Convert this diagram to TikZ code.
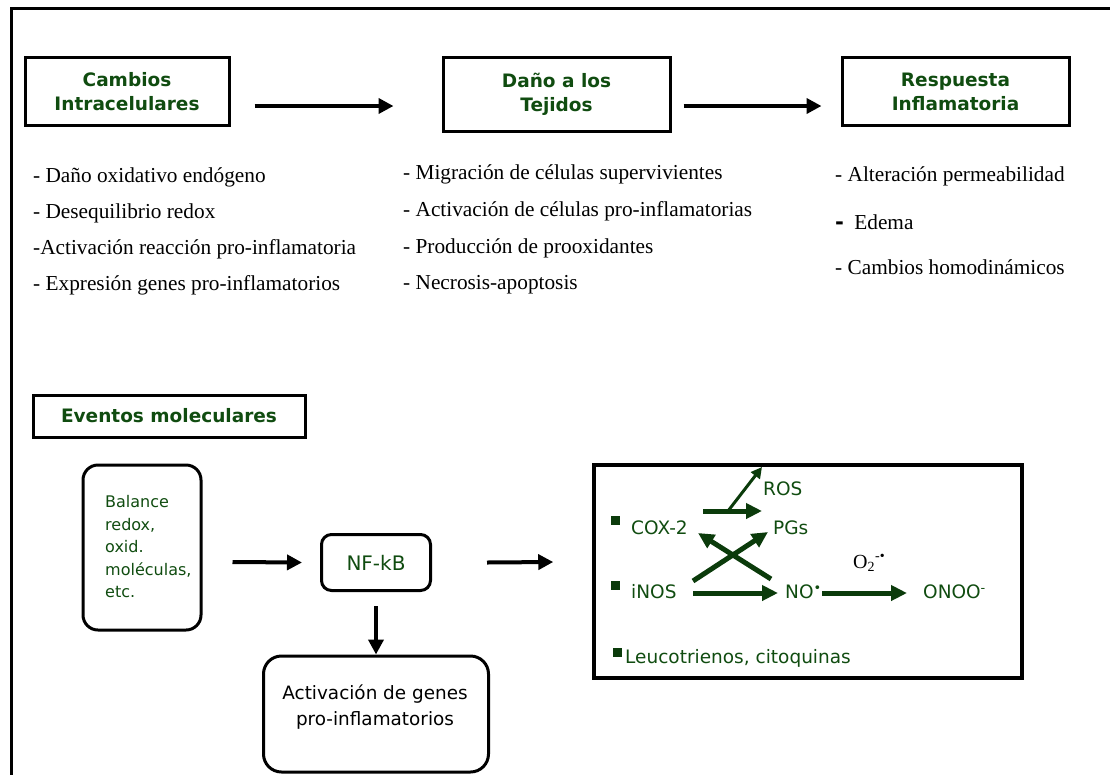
\documentclass[tikz,border=0pt]{standalone}
\usepackage{fontspec}
\setmainfont{Liberation Serif}
\newfontfamily\dvs{DejaVu Sans}
\usetikzlibrary{arrows.meta,calc}
\definecolor{txtgreen}{HTML}{104C10}
\definecolor{arrgreen}{HTML}{0B3B0B}
\begin{document}
\begin{tikzpicture}[x=1pt,y=-1pt,
  hdr/.style={draw=black,line width=3pt,align=center,font=\dvs\bfseries\fontsize{18.5}{24}\selectfont,text=txtgreen,inner sep=0pt},
  lst/.style={anchor=base west,inner sep=0pt,font=\fontsize{21.3}{25}\selectfont},
  blk/.style={line width=4pt,-{Triangle[length=15pt,width=15pt]}},
  grn/.style={draw=arrgreen,line width=5pt,-{Triangle[length=16pt,width=15pt]},arrgreen},
  thingrn/.style={draw=arrgreen,line width=3pt,-{Triangle[length=11pt,width=11pt]},arrgreen},
  rbox/.style={draw=black,line width=3pt,rounded corners=15pt,inner sep=0pt},
  itx/.style={anchor=west,inner sep=0pt,font=\dvs\fontsize{18.5}{22}\selectfont,text=txtgreen},
  bul/.style={fill=arrgreen,minimum size=9pt,inner sep=0pt}
]
\useasboundingbox (0,0) rectangle (1110,774);
\draw[line width=3pt] (11,780) -- (11,8) -- (1115,8);

% top headers
\node[hdr,minimum width=204pt,minimum height=68pt] (b1) at (127,91) {\rule{0pt}{16pt}Cambios\\Intracelulares};
\node[hdr,minimum width=227pt,minimum height=74pt] (b2) at (556.5,94) {Daño a los\\Tejidos};
\node[hdr,minimum width=227pt,minimum height=68pt] (b3) at (955.5,91) {\rule{0pt}{16pt}Respuesta\\Inflamatoria};
\draw[blk] ([xshift=24pt,yshift=-15pt]b1.east) -- ([xshift=-48pt,yshift=-12pt]b2.west);
\draw[blk] ([xshift=12pt,yshift=-12pt]b2.east) -- ([xshift=-19pt,yshift=-15pt]b3.west);

% lists
\node[lst] (c1) at (33,182) {- Daño oxidativo endógeno};
\node[lst] (c2) at (33,218) {- Desequilibrio redox};
\node[lst] (c3) at (33,254) {-Activación reacción pro-inflamatoria};
\node[lst] (c4) at (33,290) {- Expresión genes pro-inflamatorios};
\node[lst] (d1) at (403,179) {- Migración de células supervivientes};
\node[lst] (d2) at (403,216) {- Activación de células pro-inflamatorias};
\node[lst] (d3) at (403,253) {- Producción de prooxidantes};
\node[lst] (d4) at (403,289) {- Necrosis-apoptosis};
\node[lst] (r1) at (835,181) {- Alteración permeabilidad};
\node[lst] (r2) at (835,229) {{\dvs\bfseries -}\hspace{5pt} Edema};
\node[lst] (r3) at (835,274) {- Cambios homodinámicos};

% bottom
\node[hdr,minimum width=272pt,minimum height=42pt] (ev) at (169,416) {Eventos moleculares};
\node[rbox,minimum width=118pt,minimum height=165pt] (bal) at (142,547.5) {};
\node[anchor=west,align=left,inner sep=0pt,font=\dvs\fontsize{16}{22.5}\selectfont,text=txtgreen] (baltxt) at (105,547) {Balance\\redox,\\oxid.\\moléculas,\\etc.};
\node[rbox,rounded corners=10pt,minimum width=109pt,minimum height=56pt,font=\dvs\fontsize{20}{24}\selectfont,text=txtgreen] (nf) at (376,562.5) {NF-kB};
\node[rbox,rounded corners=18pt,minimum width=225pt,minimum height=116pt] (act) at (376,714) {};
\node[align=center,inner sep=0pt,font=\dvs\fontsize{18.4}{26}\selectfont] (acttxt) at (375,707) {Activación de genes\\pro-inflamatorios};
\node[draw=black,line width=3.5pt,minimum width=428pt,minimum height=213pt,inner sep=0pt] (rb) at (808,571.5) {};

\draw[blk] ([xshift=30pt,yshift=-14.5pt]bal.east) -- ([xshift=-18pt]nf.west);
\draw[blk] ([yshift=-14pt]nf.south) -- (act.north);
\draw[blk] ([xshift=55pt]nf.east) -- ([xshift=-39pt,yshift=9.5pt]rb.west);

% inside right box
\node[bul] (q1) at (615,520) {};
\node[bul] (q2) at (615,585.5) {};
\node[bul] (q3) at (617,652.5) {};
\node[itx] (cox) at (631,528) {COX-2};
\node[itx] (inos) at (631,592) {iNOS};
\node[itx] (leu) at (625,658) {Leucotrienos, citoquinas};
\node[itx] (ros) at (763,489) {ROS};
\node[itx] (pgs) at (773,528) {PGs};
\node[itx] (no) at (785,592) {NO\textsuperscript{•}};
\node[itx] (onoo) at (923,592) {ONOO\textsuperscript{-}};
\node[anchor=west,inner sep=0pt,font=\fontsize{20}{24}\selectfont] (o2) at (853,563) {O\textsubscript{2}\textsuperscript{-•}};

\coordinate (a1s) at (703,511); \coordinate (a1e) at (762,511);
\coordinate (a2s) at (728,511); \coordinate (a2e) at (762,467);
\coordinate (a3s) at (693,581); \coordinate (a3e) at (768,532);
\coordinate (a4s) at (771,579); \coordinate (a4e) at (698,533);
\coordinate (a5s) at (693,593); \coordinate (a5e) at (778,593);
\coordinate (a6s) at (822,593); \coordinate (a6e) at (907,593);
\draw[thingrn] (a2s) -- (a2e);
\draw[grn] (a1s) -- (a1e);
\draw[grn] (a3s) -- (a3e);
\draw[grn] (a4s) -- (a4e);
\draw[grn] (a5s) -- (a5e);
\draw[grn] (a6s) -- (a6e);
\end{tikzpicture}
\end{document}
